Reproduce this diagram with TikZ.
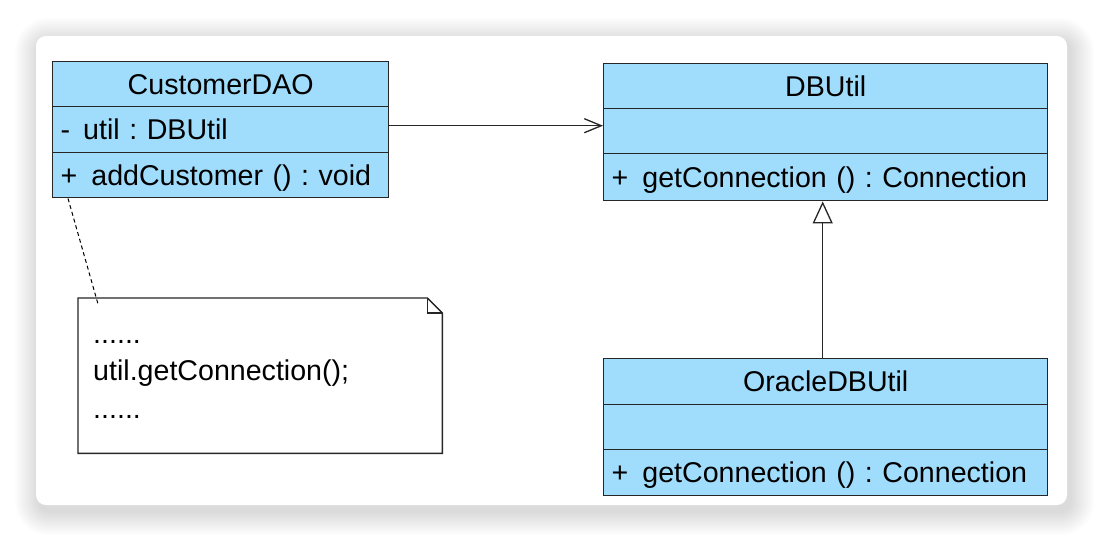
\documentclass[tikz,border=0pt]{standalone}
\usepackage{fontspec}
\setmainfont{Liberation Sans}
\usetikzlibrary{arrows.meta}
\definecolor{umlblue}{RGB}{160,220,252}
\definecolor{umlline}{RGB}{38,38,38}
\begin{document}
\begin{tikzpicture}[x=1pt,y=-1pt,
  font=\fontsize{28.6}{34}\selectfont\frenchspacing,
  comp/.style={draw=umlline, line width=1.4pt, fill=umlblue, inner xsep=8pt, inner ysep=0pt,
    anchor=north west, text height=20.5pt, text depth=0pt},
  namecomp/.style={comp, align=center},
  membcomp/.style={comp, align=left},
  notetxt/.style={anchor=base west, inner sep=0pt},
  conn/.style={draw=umlline, line width=1.3pt},
  assoc/.style={conn, -{Straight Barb[length=17pt,width=14pt,line width=1.3pt]}},
  generalize/.style={conn, -{Triangle[open,length=22pt,width=20pt,fill=white,line width=1.3pt]}},
  notelink/.style={draw=black, line width=1pt, dash pattern=on 4pt off 3pt}
]
\useasboundingbox (0,0) rectangle (1108,542);
\fill[white] (0,0) rectangle (1108,542);
% card shadow
\foreach \i in {1,...,12}{
  \pgfmathsetmacro\rr{10+2*\i}
  \fill[black, opacity=0.012, rounded corners=\rr pt]
    ({36-2*\i+3},{36-2*\i+6}) rectangle ({1067+2*\i+3},{505+2*\i+6});
}
\fill[white, rounded corners=10pt] (36,36) rectangle (1067,505);

% CustomerDAO
\node[namecomp, text width=320pt, minimum height=45pt] (cdaoN) at (52,61) {CustomerDAO};
\node[membcomp, text width=320pt, minimum height=46pt] (cdaoA) at (52,106) {\mbox{-\hspace{13pt}util : DBUtil}};
\node[membcomp, text width=320pt, minimum height=45pt] (cdaoM) at (52,152) {\mbox{+\hspace{14pt}addCustomer () : void}};

% DBUtil
\node[namecomp, text width=428pt, minimum height=45pt] (dbN) at (603,63) {DBUtil};
\node[membcomp, text width=428pt, minimum height=45pt] (dbA) at (603,108) {};
\node[membcomp, text width=428pt, minimum height=47pt] (dbM) at (603,153) {\mbox{+\hspace{14pt}getConnection () : Connection}};

% OracleDBUtil
\node[namecomp, text width=428pt, minimum height=46pt] (orN) at (603,358) {OracleDBUtil};
\node[membcomp, text width=428pt, minimum height=45pt] (orA) at (603,404) {};
\node[membcomp, text width=428pt, minimum height=46pt] (orM) at (603,449) {\mbox{+\hspace{14pt}getConnection () : Connection}};

% Note
\node[anchor=north west, minimum width=364pt, minimum height=155pt, inner sep=0pt] (note) at (78,298) {};
\draw[umlline, line width=1.4pt, fill=white]
  (note.north west) -- ([xshift=-15pt]note.north east) -- ([yshift=-15pt]note.north east)
  -- (note.south east) -- (note.south west) -- cycle;
\draw[umlline, line width=1.2pt]
  ([xshift=-15pt]note.north east) -- ([xshift=-15pt,yshift=-15pt]note.north east) -- ([yshift=-15pt]note.north east);
\node[notetxt] (nl1) at (93,343) {......};
\node[notetxt] (nl2) at (93,380) {util.getConnection();};
\node[notetxt] (nl3) at (93,418) {......};

% connectors
\draw[assoc] ([yshift=4pt]cdaoA.east) -- ([yshift=4pt]cdaoA.east -| dbA.west);
\draw[generalize] ([xshift=-3pt]orN.north) -- ([xshift=-3pt]dbM.south);
\draw[notelink] ([xshift=16pt]cdaoM.south west) -- ([xshift=20pt,yshift=-6pt]note.north west);
\end{tikzpicture}
\end{document}
